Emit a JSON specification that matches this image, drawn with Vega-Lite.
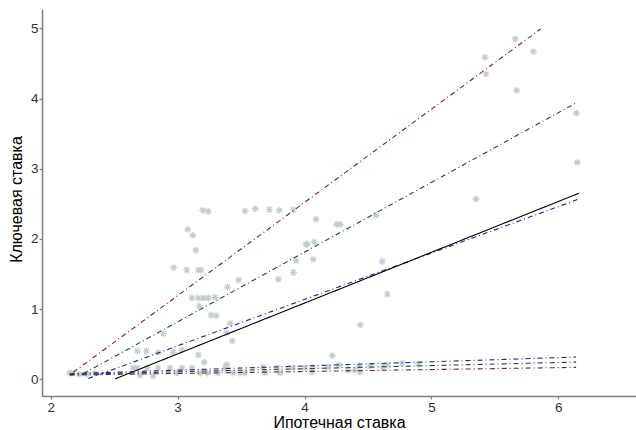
{
  "$schema": "https://vega.github.io/schema/vega-lite/v6.json",
  "width": 594,
  "height": 387,
  "autosize": {"type": "none"},
  "padding": {"left": 42, "top": 9, "right": 0, "bottom": 34},
  "background": "white",
  "config": {
    "view": {"stroke": null},
    "axis": {
      "grid": false,
      "domainColor": "#7f7f7f",
      "domainWidth": 1.5,
      "tickColor": "#7f7f7f",
      "tickWidth": 1.2,
      "tickSize": 3,
      "labelColor": "#333333",
      "labelFont": "Liberation Sans",
      "labelFontSize": 13.5,
      "labelPadding": 1,
      "format": "d",
      "titleFont": "Liberation Sans",
      "titleFontSize": 16,
      "titleFontWeight": "normal",
      "titleColor": "#000000"
    }
  },
  "datasets": {
    "points": [
      {"x": 5.661, "y": 4.848}, {"x": 5.422, "y": 4.587}, {"x": 5.803, "y": 4.667}, {"x": 5.430, "y": 4.349},
      {"x": 5.672, "y": 4.117}, {"x": 6.142, "y": 3.793}, {"x": 6.150, "y": 3.091}, {"x": 5.351, "y": 2.568},
      {"x": 3.198, "y": 2.405}, {"x": 3.242, "y": 2.390}, {"x": 3.531, "y": 2.397}, {"x": 3.612, "y": 2.430},
      {"x": 3.723, "y": 2.419}, {"x": 3.801, "y": 2.407}, {"x": 3.912, "y": 2.412}, {"x": 4.091, "y": 2.279},
      {"x": 4.254, "y": 2.208}, {"x": 4.282, "y": 2.208}, {"x": 3.080, "y": 2.137}, {"x": 3.119, "y": 2.051},
      {"x": 4.012, "y": 1.923}, {"x": 4.022, "y": 1.923}, {"x": 4.077, "y": 1.956}, {"x": 3.143, "y": 1.838},
      {"x": 3.933, "y": 1.689}, {"x": 4.069, "y": 1.707}, {"x": 2.969, "y": 1.590}, {"x": 3.072, "y": 1.557},
      {"x": 3.163, "y": 1.557}, {"x": 3.184, "y": 1.557}, {"x": 3.912, "y": 1.521}, {"x": 3.481, "y": 1.415},
      {"x": 3.794, "y": 1.425}, {"x": 3.393, "y": 1.311}, {"x": 3.113, "y": 1.158}, {"x": 3.163, "y": 1.158},
      {"x": 3.204, "y": 1.158}, {"x": 3.243, "y": 1.158}, {"x": 3.295, "y": 1.165}, {"x": 3.171, "y": 1.044},
      {"x": 3.263, "y": 0.912}, {"x": 3.303, "y": 0.906}, {"x": 3.413, "y": 0.798}, {"x": 3.385, "y": 0.660},
      {"x": 2.887, "y": 0.650}, {"x": 3.431, "y": 0.546}, {"x": 2.682, "y": 0.403}, {"x": 2.755, "y": 0.403},
      {"x": 2.846, "y": 0.379}, {"x": 2.966, "y": 0.385}, {"x": 3.032, "y": 0.417}, {"x": 3.163, "y": 0.346},
      {"x": 3.210, "y": 0.242}, {"x": 4.563, "y": 2.336}, {"x": 4.611, "y": 1.680}, {"x": 4.653, "y": 1.215},
      {"x": 4.440, "y": 0.774}, {"x": 4.219, "y": 0.336}, {"x": 3.387, "y": 0.208},
      {"x": 2.150, "y": 0.090}, {"x": 2.168, "y": 0.090}, {"x": 2.223, "y": 0.075}, {"x": 2.286, "y": 0.075},
      {"x": 2.349, "y": 0.090}, {"x": 2.649, "y": 0.161}, {"x": 2.680, "y": 0.161}, {"x": 2.704, "y": 0.061},
      {"x": 2.759, "y": 0.161}, {"x": 2.806, "y": 0.047}, {"x": 2.845, "y": 0.161}, {"x": 2.940, "y": 0.161},
      {"x": 2.995, "y": 0.090}, {"x": 3.035, "y": 0.161}, {"x": 3.113, "y": 0.161}, {"x": 3.177, "y": 0.090},
      {"x": 3.235, "y": 0.090}, {"x": 3.317, "y": 0.090}, {"x": 3.375, "y": 0.161}, {"x": 3.437, "y": 0.090},
      {"x": 3.492, "y": 0.090}, {"x": 3.531, "y": 0.090}, {"x": 3.673, "y": 0.175}, {"x": 3.689, "y": 0.090},
      {"x": 3.783, "y": 0.161}, {"x": 3.807, "y": 0.090}, {"x": 3.909, "y": 0.161}, {"x": 4.004, "y": 0.161},
      {"x": 4.058, "y": 0.104}, {"x": 4.066, "y": 0.161}, {"x": 4.185, "y": 0.175}, {"x": 4.272, "y": 0.204},
      {"x": 4.343, "y": 0.132}, {"x": 4.398, "y": 0.132}, {"x": 4.437, "y": 0.104}, {"x": 4.429, "y": 0.189},
      {"x": 4.516, "y": 0.189}, {"x": 4.618, "y": 0.175}, {"x": 4.650, "y": 0.204}, {"x": 4.769, "y": 0.232},
      {"x": 4.895, "y": 0.218}
    ],
    "lines": [
      {"group": "upper", "fit": "fit1", "x": 2.178, "y": 0.100},
      {"group": "upper", "fit": "fit1", "x": 5.860, "y": 4.990},
      {"group": "upper", "fit": "fit2", "x": 2.257, "y": 0.080},
      {"group": "upper", "fit": "fit2", "x": 6.153, "y": 3.950},
      {"group": "upper", "fit": "fit3", "x": 2.296, "y": 0.010},
      {"group": "upper", "fit": "fit3", "x": 6.150, "y": 2.560},
      {"group": "upper", "fit": "ols", "x": 2.507, "y": 0.005},
      {"group": "upper", "fit": "ols", "x": 6.162, "y": 2.650},
      {"group": "lower", "fit": "fit1", "x": 2.150, "y": 0.060},
      {"group": "lower", "fit": "fit1", "x": 6.140, "y": 0.170},
      {"group": "lower", "fit": "fit2", "x": 2.150, "y": 0.070},
      {"group": "lower", "fit": "fit2", "x": 6.140, "y": 0.245},
      {"group": "lower", "fit": "fit3", "x": 2.150, "y": 0.080},
      {"group": "lower", "fit": "fit3", "x": 6.140, "y": 0.317}
    ]
  },
  "layer": [
    {
      "data": {"name": "points"},
      "mark": {
        "type": "point",
        "shape": "M-1,0L1,0M0,-1L0,1M-0.7,-0.7L0.7,0.7M-0.7,0.7L0.7,-0.7",
        "filled": false,
        "size": 50,
        "strokeWidth": 1.2,
        "color": "#C1CDCD",
        "opacity": 1
      },
      "encoding": {
        "x": {
          "field": "x", "type": "quantitative",
          "scale": {"domain": [1.9314, 6.612], "nice": false, "zero": false},
          "axis": {"values": [2, 3, 4, 5, 6], "title": "Ипотечная ставка", "titleX": 297, "titleY": 31.5, "titleBaseline": "alphabetic", "titleAnchor": "middle"}
        },
        "y": {
          "field": "y", "type": "quantitative",
          "scale": {"domain": [-0.238, 5.275], "nice": false, "zero": false},
          "axis": {"values": [0, 1, 2, 3, 4, 5], "title": "Ключевая ставка", "titleX": -18, "titleY": 190, "titleBaseline": "bottom", "titleAngle": -90}
        }
      }
    },
    {
      "data": {"name": "lines"},
      "mark": {"type": "line", "strokeWidth": 1.1},
      "encoding": {
        "x": {"field": "x", "type": "quantitative"},
        "y": {"field": "y", "type": "quantitative"},
        "detail": {"field": "group"},
        "color": {
          "field": "fit", "type": "nominal",
          "scale": {"domain": ["fit1", "fit2", "fit3", "ols"], "range": ["#7a1f1f", "#1f4a1f", "#2222a8", "#000000"]},
          "legend": null
        },
        "strokeDash": {
          "field": "fit", "type": "nominal",
          "scale": {"domain": ["fit1", "fit2", "fit3", "ols"], "range": [[5, 3, 1, 3], [5, 3, 1, 3], [5, 3, 1, 3], [1, 0]]},
          "legend": null
        }
      }
    }
  ]
}
